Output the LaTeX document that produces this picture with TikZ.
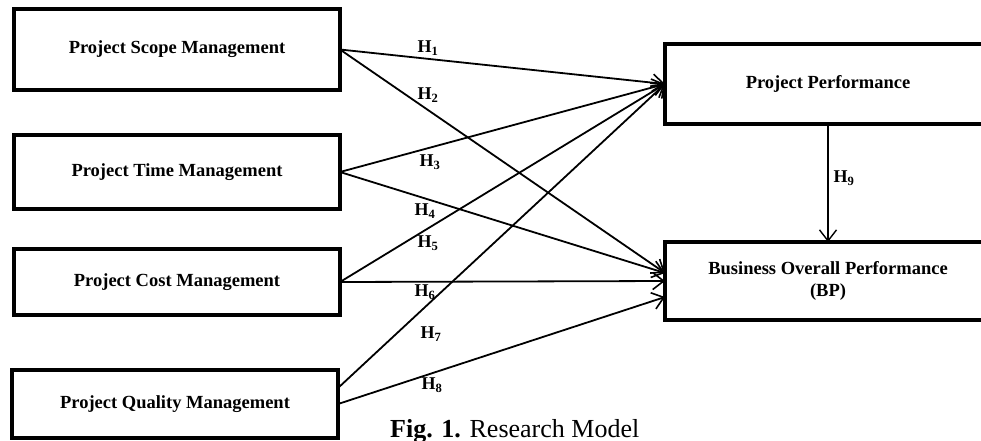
\documentclass[tikz,border=0pt]{standalone}
\usepackage{fontspec}
\setmainfont{Liberation Serif}
\usetikzlibrary{arrows.meta,calc}
\begin{document}
\begin{tikzpicture}[x=1pt,y=-1pt,
  box/.style={draw=black, line width=4pt, rectangle, minimum width=326pt, align=center,
    font=\fontsize{18.5}{22}\selectfont\bfseries, inner sep=0pt, outer sep=0pt},
  link/.style={line width=1.8pt, -{Straight Barb[length=11pt,width=17pt,line width=1.6pt]}},
  hlab/.style={font=\fontsize{18}{20}\selectfont\bfseries, inner sep=0pt}
]
\useasboundingbox (0,0) rectangle (981,440);
\clip (0,0) rectangle (981,440);
\node[box, minimum height=81pt] (scope) at (177,49.5) {Project Scope Management};
\node[box, minimum height=74pt] (time) at (177,172) {Project Time Management};
\node[box, minimum height=66pt] (cost) at (177,282) {Project Cost Management};
\node[box, minimum height=68pt] (qual) at (175,404) {Project Quality Management};
\node[box, minimum height=80pt] (pp) at (828,84) {Project Performance};
\node[box, minimum height=78pt] (bp) at (828,281) {Business Overall Performance\\(BP)};
\coordinate (bpa) at ($(bp.west)+(0,-8)$);
\coordinate (bpc) at ($(bp.west)+(0,16)$);
\coordinate (qa) at ($(qual.east)+(0,-16)$);
\draw[link] (scope.east) -- (pp.west);
\draw[link] (scope.east) -- (bpa);
\draw[link] (time.east) -- (pp.west);
\draw[link] (time.east) -- (bpa);
\draw[link] (cost.east) -- (pp.west);
\draw[link] (cost.east) -- (bp.west);
\draw[link] (qa) -- (pp.west);
\draw[link] (qual.east) -- (bpc);
\draw[line width=1.5pt, -{Straight Barb[length=11pt,width=17pt,line width=1.4pt]}] (pp.south) -- (bp.north);
\node[hlab] (h1) at (428,48) {H\textsubscript{1}};
\node[hlab] (h2) at (428,95) {H\textsubscript{2}};
\node[hlab] (h3) at (430,162) {H\textsubscript{3}};
\node[hlab] (h4) at (425,211) {H\textsubscript{4}};
\node[hlab] (h5) at (428,243) {H\textsubscript{5}};
\node[hlab] (h6) at (425,292) {H\textsubscript{6}};
\node[hlab] (h7) at (431,334) {H\textsubscript{7}};
\node[hlab] (h8) at (432,385) {H\textsubscript{8}};
\node[hlab] (h9) at (844,178) {H\textsubscript{9}};
\node[anchor=base west, inner sep=0pt, font=\fontsize{26}{30}\selectfont] (cap) at (390,437) {\textbf{Fig. 1.} Research Model};
\end{tikzpicture}
\end{document}
